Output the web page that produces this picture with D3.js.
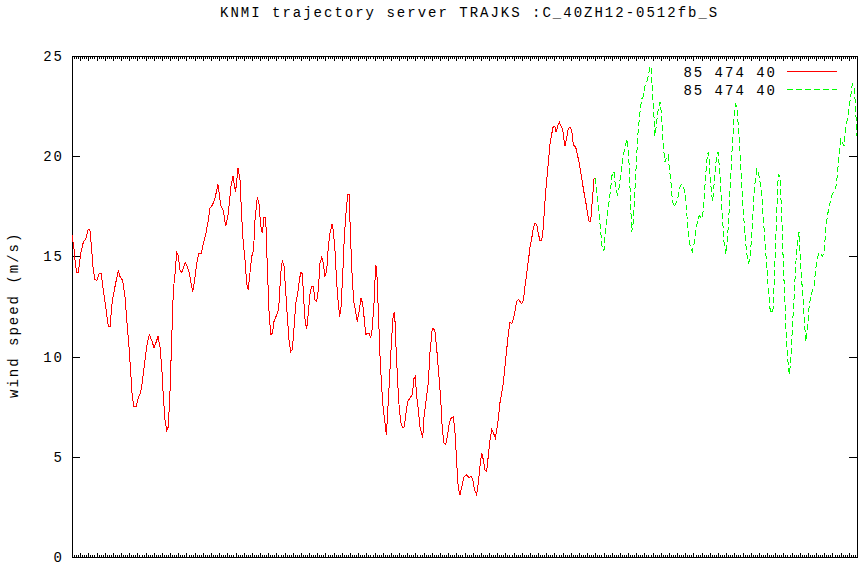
<!DOCTYPE html>
<html><head><meta charset="utf-8">
<script src="https://cdn.jsdelivr.net/npm/d3@7"></script>
<style>
body{margin:0;background:#fff}
svg{display:block}
text{font-family:"Liberation Mono","DejaVu Sans Mono",monospace;font-size:14px;fill:#000;letter-spacing:2px}
</style>
</head><body>
<svg id="chart" width="865" height="566"></svg>
<script>
const title = "KNMI trajectory server TRAJKS :C_40ZH12-0512fb_S";
const yLabel = "wind speed (m/s)";
const yTicks = [0, 5, 10, 15, 20, 25];
const seriesNames = ["85 474 40", "85 474 40"];
const xDomain = [0, 96];

const redHours = [0,0.24,0.37,0.57,0.77,1.06,1.38,1.71,1.99,2.20,
2.41,2.60,2.81,3.02,3.34,3.58,3.83,4.12,4.44,4.65,
4.93,5.26,5.66,5.87,6.20,6.48,6.76,6.97,7.18,7.37,
7.58,7.83,8.11,8.40,8.65,8.93,9.21,9.45,9.75,10.03,
10.27,10.52,10.76,10.97,11.17,11.37,11.58,11.78,11.98,12.19,
12.39,12.60,12.80,13.00,13.21,13.42,13.61,13.86,14.10,14.35,
14.59,14.76,14.96,15.25,15.49,15.81,16.06,16.35,16.67,16.88,
17.21,17.49,17.85,18.19,18.50,18.80,19.11,19.44,19.69,20.00,
20.30,20.55,20.75,20.95,21.16,21.36,21.56,21.77,21.98,22.20,
22.38,22.66,22.87,23.08,23.27,23.48,23.69,23.88,24.09,24.30,
24.50,24.70,24.95,25.19,25.35,25.52,25.72,25.93,26.13,26.33,
26.54,26.75,26.94,27.15,27.36,27.60,27.80,27.97,28.16,28.37,
28.53,28.70,28.90,29.11,29.31,29.51,29.72,29.92,30.12,30.33,
30.54,30.73,30.94,31.15,31.34,31.55,31.80,31.96,32.16,32.37,
32.57,32.74,32.90,33.10,33.30,33.51,33.72,33.88,34.08,34.28,
34.49,34.69,34.89,35.10,35.34,35.55,35.71,35.92,36.11,36.32,
36.53,36.72,36.93,37.14,37.26,37.46,37.67,37.87,38.07,38.28,
38.44,38.56,38.80,38.97,39.13,39.29,39.46,39.62,39.83,40.03,
40.23,40.44,40.64,40.85,41.05,41.34,41.62,41.82,41.98,42.16,
42.35,42.56,42.89,43.05,43.29,43.57,43.78,44.06,44.36,44.60,
44.84,45.09,45.29,45.49,45.70,45.90,46.14,46.39,46.63,46.84,
47.05,47.24,47.45,47.69,47.94,48.27,48.55,48.79,49.00,49.20,
49.49,49.69,49.90,50.10,50.30,50.51,50.71,50.91,51.12,51.33,
51.52,51.77,51.94,52.13,52.34,52.55,52.75,52.95,53.16,53.36,
53.56,53.77,53.97,54.18,54.38,54.58,54.79,54.99,55.19,55.40,
55.61,55.80,56.01,56.22,56.41,56.62,56.83,57.02,57.23,57.44,
57.64,57.85,58.05,58.25,58.46,58.66,58.86,59.07,59.19,59.40,
59.59,59.80,60.01,60.17,60.29,60.50,60.69,60.90,61.11,61.31,
61.60,61.80,62.00,62.21,62.41,62.61,62.82,63.02,63.23,63.43,
63.63,63.84,63.96];
const redSpeed = [16.05,15.4,14.8,14.2,14.2,15.15,15.7,15.9,16.35,16.3,
15.3,14.3,13.85,13.8,14.15,14.15,13.3,12.5,11.5,11.5,
12.8,13.5,14.3,14.0,13.8,13.0,11.5,10.5,9.2,8.0,
7.5,7.5,7.95,8.2,8.9,9.85,10.7,11.1,10.8,10.45,
10.7,11.0,10.5,9.5,8.0,6.85,6.3,6.5,8.2,10.8,
13.3,14.15,15.2,15.05,14.3,14.2,14.4,14.7,14.5,14.15,
13.6,13.25,13.7,14.65,15.15,15.15,15.65,16.1,16.8,17.4,
17.6,17.9,18.6,17.55,17.3,16.5,17.15,18.5,19.0,18.2,
19.4,18.8,17.0,15.65,14.8,13.65,13.35,14.2,15.0,15.3,
16.8,17.95,17.6,16.55,16.15,16.95,16.95,14.5,12.3,11.1,
11.15,11.75,12.0,12.25,12.8,14.15,14.8,14.5,13.3,12.0,
10.8,10.25,10.35,11.4,12.65,13.15,13.8,14.2,14.15,12.65,
11.65,11.4,12.15,13.15,13.5,13.5,12.8,12.75,13.3,14.65,
14.95,14.65,14.0,14.3,15.45,16.15,16.6,16.3,15.3,13.65,
12.65,12.0,12.5,14.0,15.95,17.15,18.1,18.1,15.8,13.8,
12.65,12.25,11.75,12.25,12.9,12.65,12.0,11.1,11.15,11.15,
10.95,11.4,12.65,14.55,14.4,12.3,10.0,8.5,7.35,6.7,
6.1,6.85,8.7,10.0,11.15,12.1,12.2,10.5,8.7,7.35,
6.7,6.45,6.5,7.2,7.75,7.95,8.1,8.9,9.0,8.0,
7.35,6.5,5.95,7.0,7.75,8.7,10.2,11.4,11.35,10.4,
9.2,7.85,6.35,5.7,5.6,6.0,6.7,6.95,7.0,6.2,
4.7,3.45,3.1,3.55,4.0,4.1,3.95,4.05,3.9,3.4,
3.1,3.7,4.55,5.2,4.85,4.35,4.25,5.05,5.85,6.35,
6.2,5.95,6.35,6.85,7.7,8.2,8.7,9.5,10.35,11.15,
11.7,11.65,11.85,12.3,12.75,12.85,12.75,12.65,12.8,13.5,
14.15,14.75,15.45,15.9,16.4,16.65,16.6,16.15,15.8,15.8,
16.45,17.8,18.8,19.7,20.6,21.1,21.5,21.45,21.2,21.5,
21.7,21.5,21.35,20.8,20.5,20.95,21.35,21.45,21.3,20.55,
20.45,20.1,19.7,19.2,18.7,18.2,17.75,17.2,16.75,16.75,
17.8,18.85,18.9];

const greenHours = [63.96,64.24,64.45,64.66,64.85,65.06,65.27,65.46,65.67,65.88,
66.08,66.28,66.49,66.69,66.89,67.10,67.30,67.51,67.71,67.91,
68.08,68.24,68.45,68.64,68.85,69.06,69.25,69.46,69.67,69.87,
70.07,70.28,70.48,70.69,70.81,70.97,71.17,71.30,71.50,71.70,
71.91,72.12,72.31,72.52,72.73,72.92,73.05,73.22,73.41,73.62,
73.87,74.08,74.27,74.51,74.76,74.97,75.17,75.37,75.58,75.86,
76.10,76.31,76.52,76.71,76.92,77.13,77.33,77.50,77.69,77.86,
78.02,78.23,78.35,78.51,78.67,78.84,79.00,79.16,79.33,79.53,
79.74,79.94,80.14,80.35,80.56,80.75,80.96,81.12,81.29,81.49,
81.70,81.90,82.10,82.31,82.51,82.71,82.92,83.13,83.32,83.53,
83.74,83.93,84.14,84.35,84.54,84.75,84.96,85.15,85.36,85.57,
85.76,85.97,86.18,86.37,86.58,86.79,86.98,87.19,87.40,87.59,
87.72,87.89,88.09,88.30,88.50,88.70,88.91,89.11,89.31,89.52,
89.73,89.92,90.13,90.34,90.54,90.75,90.96,91.15,91.36,91.57,
91.77,91.98,92.19,92.38,92.59,92.79,92.99,93.19,93.40,93.60,
93.80,94.01,94.21,94.41,94.62,94.81,95.02,95.23,95.42,95.63,
95.79,95.96,96.0];
const greenSpeed = [18.9,18.05,17.2,16.2,15.4,15.3,16.4,17.05,17.7,18.4,
19.2,19.2,18.4,18.1,18.4,19.05,19.7,20.2,20.6,20.85,
20.05,18.4,16.2,16.7,18.4,20.05,21.35,22.2,22.85,23.0,
23.5,23.7,24.0,24.5,24.4,23.35,22.0,21.0,21.7,22.35,
22.7,22.0,20.5,19.7,19.95,20.05,19.35,18.85,17.85,17.45,
17.65,17.85,18.4,18.6,18.55,18.05,17.2,16.2,15.55,15.25,
15.7,16.4,16.8,17.05,16.9,17.05,18.05,19.05,20.05,20.2,
19.05,18.05,17.75,18.55,19.35,20.05,20.2,19.5,18.4,17.05,
15.7,15.1,15.7,17.2,19.05,20.5,21.85,22.6,22.5,21.5,
20.2,18.55,17.2,16.05,15.15,14.65,14.9,16.05,17.55,18.7,
19.35,19.2,18.7,18.05,16.9,15.7,14.55,13.4,12.4,12.15,
12.4,14.75,17.05,19.1,19.0,17.05,14.75,12.6,10.6,9.6,
9.1,9.75,11.4,12.9,14.55,15.7,16.2,14.55,13.4,12.1,
10.75,11.25,12.4,13.05,13.25,13.55,14.4,14.9,15.2,15.15,
15.0,15.2,16.4,17.05,17.45,17.85,18.1,18.3,18.4,19.05,
20.05,20.85,20.7,20.5,21.35,21.85,22.35,23.0,23.6,23.4,
22.7,21.3,21.0];

const colors = ["#ff0000", "#00ff00"];

const svg = d3.select("#chart");
const plotLeft = 72, plotRight = 857, plotTop = 56, plotBottom = 557;
const x = d3.scaleLinear().domain(xDomain).range([plotLeft, plotRight]);
const y = d3.scaleLinear().domain([0, 25]).range([plotBottom, plotTop]);

// Title
svg.append("text").attr("x", 220).attr("y", 17).text(title);

// y-axis label
svg.append("text")
  .attr("transform", "translate(18,398) rotate(-90)")
  .text(yLabel);

// frame
svg.append("rect").attr("x", plotLeft + 0.5).attr("y", plotTop + 0.5)
  .attr("width", plotRight - plotLeft).attr("height", plotBottom - plotTop)
  .attr("fill", "none").attr("stroke", "#000").attr("stroke-width", 1);

// y ticks (both sides) and labels
const gy = svg.append("g");
yTicks.forEach(t => {
  const yy = Math.round(y(t)) + 0.5;
  gy.append("line").attr("x1", plotLeft).attr("x2", plotLeft + 8).attr("y1", yy).attr("y2", yy).attr("stroke", "#000");
  gy.append("line").attr("x1", plotRight - 8).attr("x2", plotRight).attr("y1", yy).attr("y2", yy).attr("stroke", "#000");
  gy.append("text").attr("x", 64).attr("y", y(t) + 5).attr("text-anchor", "end").text(t);
});

// x ticks (top and bottom), major every 1, minor every 0.25
const gx = svg.append("g");
const xTickVals = d3.range(xDomain[0], xDomain[1] + 0.001, 0.25);
xTickVals.forEach(t => {
  const major = Math.abs(t - Math.round(t)) < 1e-6;
  const len = major ? 4 : 2;
  const xx = Math.round(x(t)) + 0.5;
  gx.append("line").attr("x1", xx).attr("x2", xx).attr("y1", plotBottom).attr("y2", plotBottom - len).attr("stroke", "#000");
  gx.append("line").attr("x1", xx).attr("x2", xx).attr("y1", plotTop + 1).attr("y2", plotTop + 1 + len).attr("stroke", "#000");
});

// series
const line = d3.line().x(d => x(d[0])).y(d => y(d[1]));
const redData = d3.zip(redHours, redSpeed);
const greenData = d3.zip(greenHours, greenSpeed);

svg.append("path").datum(redData).attr("d", line)
  .attr("fill", "none").attr("stroke", colors[0]).attr("stroke-width", 1)
  .attr("shape-rendering", "crispEdges");
svg.append("path").datum(greenData).attr("d", line)
  .attr("fill", "none").attr("stroke", colors[1]).attr("stroke-width", 1)
  .attr("stroke-dasharray", "6,3")
  .attr("shape-rendering", "crispEdges");

// legend
const lg = svg.append("g");
seriesNames.forEach((name, i) => {
  const ly = 71 + i * 18;
  lg.append("text").attr("x", 777).attr("y", ly + 6).attr("text-anchor", "end").text(name);
  lg.append("line").attr("x1", 787).attr("x2", 837).attr("y1", ly + 0.5).attr("y2", ly + 0.5)
    .attr("stroke", colors[i]).attr("stroke-width", 1)
    .attr("stroke-dasharray", i === 1 ? "6,3" : null);
});
</script>
</body></html>
